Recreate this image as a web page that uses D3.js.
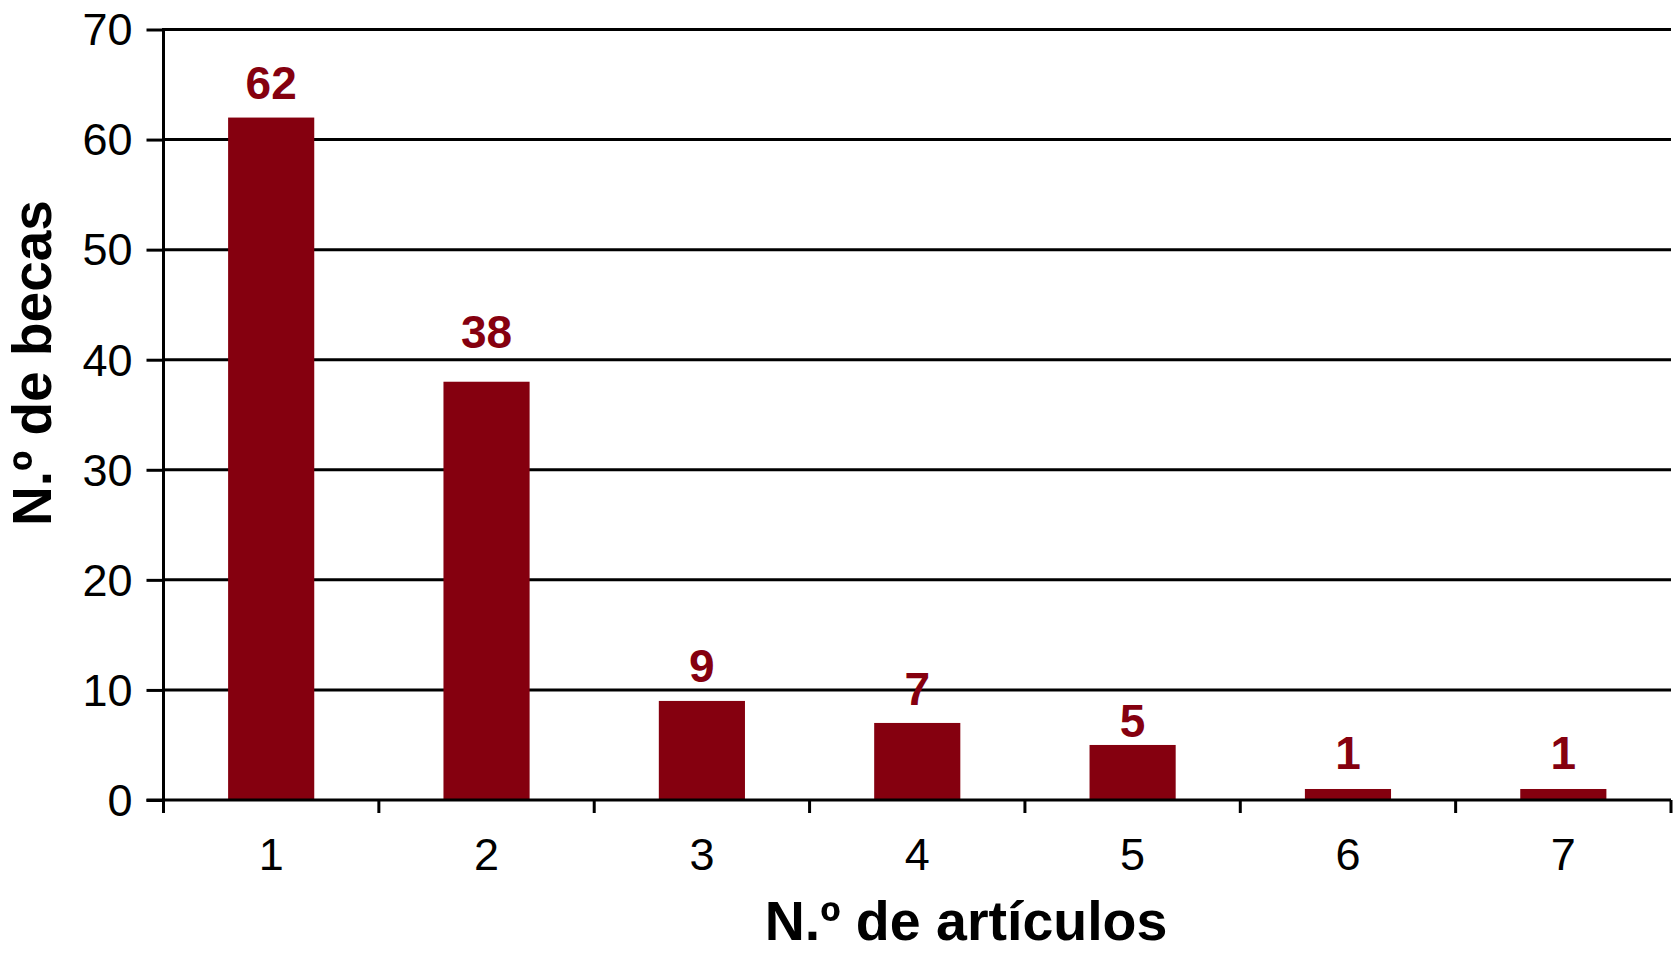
<!DOCTYPE html>
<html>
<head>
<meta charset="utf-8">
<script src="https://cdn.jsdelivr.net/npm/d3@7"></script>
<style>
  html, body { margin: 0; padding: 0; background: #fff; }
  svg { display: block; font-family: "Liberation Sans", Arial, Helvetica, sans-serif; }
</style>
</head>
<body>
<svg id="chart" width="1673" height="953"></svg>
<script>
const categories = ["1", "2", "3", "4", "5", "6", "7"];
const values = [62, 38, 9, 7, 5, 1, 1];
const yTicks = [0, 10, 20, 30, 40, 50, 60, 70];
const xTitle = "N.º de artículos";
const yTitle = "N.º de becas";

(function () {
const mLeft = 163.5, mRight = 1671, mTop = 29.5, mBottom = 800;
const barColor = "#85000f";
// gap (px) between each bar top and its value label baseline, as in the original
const labelGap = [19, 34, 19, 18, 8, 20, 20];

const svg = d3.select("#chart");

const x = d3.scaleBand().domain(categories).range([mLeft, mRight]).padding(0);
const y = d3.scaleLinear().domain([0, 70]).range([mBottom, mTop]);

// gridlines (horizontal)
svg.append("g")
  .selectAll("line")
  .data(yTicks.filter(d => d > 0))
  .join("line")
  .attr("x1", mLeft).attr("x2", mRight)
  .attr("y1", d => y(d)).attr("y2", d => y(d))
  .attr("stroke", "#000").attr("stroke-width", 3);

// bars
const barW = x.bandwidth() * 0.4;
svg.append("g")
  .selectAll("rect")
  .data(values)
  .join("rect")
  .attr("x", (d, i) => x(categories[i]) + x.bandwidth() / 2 - barW / 2)
  .attr("y", d => y(d))
  .attr("width", barW)
  .attr("height", d => y(0) - y(d))
  .attr("fill", barColor);

// value labels
svg.append("g")
  .selectAll("text")
  .data(values)
  .join("text")
  .attr("x", (d, i) => x(categories[i]) + x.bandwidth() / 2)
  .attr("y", (d, i) => y(d) - labelGap[i])
  .attr("text-anchor", "middle")
  .attr("font-size", 46)
  .attr("font-weight", "bold")
  .attr("fill", barColor)
  .text(d => d);

// y axis
const yAxis = d3.axisLeft(y).tickValues(yTicks).tickSize(17).tickPadding(14);
const gy = svg.append("g").attr("transform", `translate(${mLeft},0)`).call(yAxis);
gy.select(".domain").remove();
gy.selectAll(".tick line").attr("stroke", "#000").attr("stroke-width", 3);
gy.selectAll(".tick text").attr("font-size", 45).attr("fill", "#000")
  .attr("font-family", "Liberation Sans, Arial, sans-serif").attr("dy", "0.34em");
svg.append("line")
  .attr("x1", mLeft).attr("x2", mLeft)
  .attr("y1", mTop - 1.5).attr("y2", mBottom + 13)
  .attr("stroke", "#000").attr("stroke-width", 3);

// x axis
svg.append("line")
  .attr("x1", mLeft - 17).attr("x2", mRight)
  .attr("y1", mBottom).attr("y2", mBottom)
  .attr("stroke", "#000").attr("stroke-width", 3);
const bounds = categories.map(c => x(c)).concat([x(categories[categories.length - 1]) + x.bandwidth()]);
svg.append("g")
  .selectAll("line")
  .data(bounds)
  .join("line")
  .attr("x1", d => d).attr("x2", d => d)
  .attr("y1", mBottom).attr("y2", mBottom + 13)
  .attr("stroke", "#000").attr("stroke-width", 3);
svg.append("g")
  .selectAll("text")
  .data(categories)
  .join("text")
  .attr("x", d => x(d) + x.bandwidth() / 2)
  .attr("y", 870)
  .attr("text-anchor", "middle")
  .attr("font-size", 45)
  .attr("fill", "#000")
  .text(d => d);

// axis titles
svg.append("text")
  .attr("x", 966)
  .attr("y", 940)
  .attr("text-anchor", "middle")
  .attr("font-size", 55.5)
  .attr("font-weight", "bold")
  .attr("fill", "#000")
  .text(xTitle);

svg.append("text")
  .attr("transform", "translate(51,363) rotate(-90)")
  .attr("text-anchor", "middle")
  .attr("font-size", 55)
  .attr("font-weight", "bold")
  .attr("fill", "#000")
  .text(yTitle);
})();
</script>
</body>
</html>
